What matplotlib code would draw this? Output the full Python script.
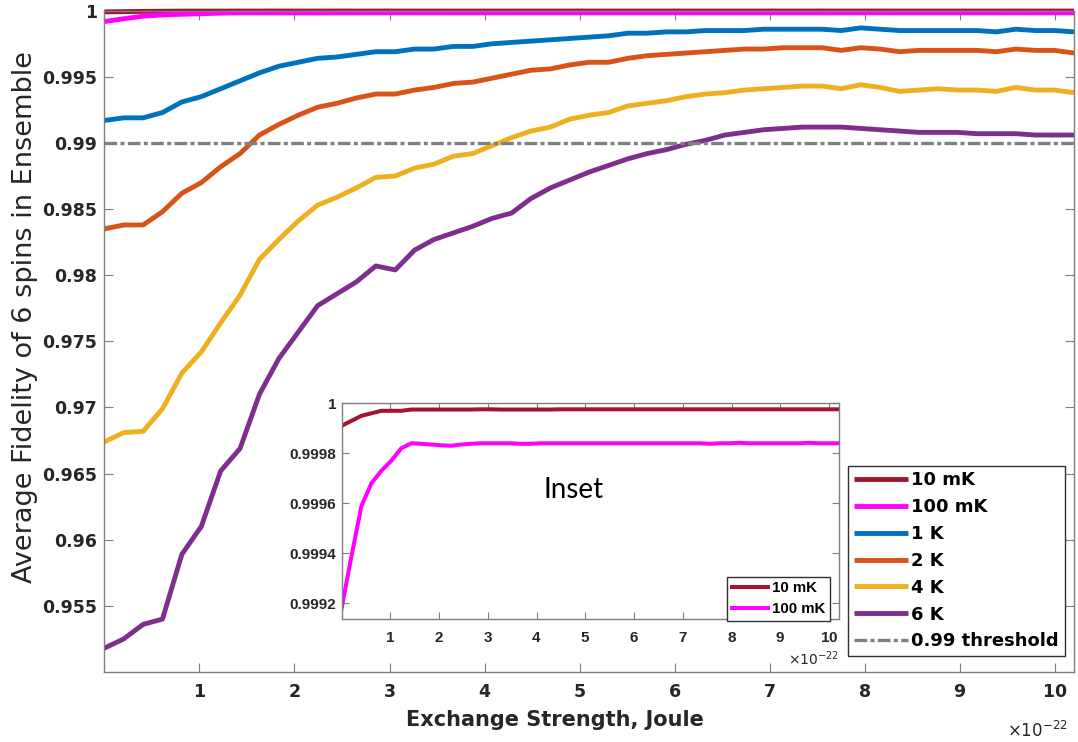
import numpy as np
import matplotlib
matplotlib.use("Agg")
import matplotlib.pyplot as plt
from matplotlib.ticker import ScalarFormatter, FuncFormatter

plt.rcParams['font.family'] = ['DejaVu Sans']

# exchange strength grid, Joule
exchange = np.linspace(0, 10.2e-22, 51)

fid_10mK = [0.99991, 0.99993, 0.99995, 0.99996, 0.99997, 0.99997, 0.99997, 0.999975, 0.999975, 0.999975,
            0.999975, 0.999975, 0.999975, 0.999975, 0.999976, 0.999976, 0.999975, 0.999975, 0.999975, 0.999975,
            0.999975, 0.999975, 0.999976, 0.999976, 0.999976, 0.999976, 0.999976, 0.999976, 0.999976, 0.999976,
            0.999976, 0.999976, 0.999976, 0.999976, 0.999976, 0.999976, 0.999976, 0.999976, 0.999976, 0.999976,
            0.999976, 0.999976, 0.999976, 0.999976, 0.999976, 0.999976, 0.999976, 0.999976, 0.999976, 0.999976,
            0.999976]
fid_100mK = [0.99918, 0.99939, 0.99959, 0.99968, 0.99973, 0.99977, 0.99982, 0.99984, 0.999838, 0.999835,
             0.999832, 0.99983, 0.999835, 0.999838, 0.99984, 0.99984, 0.99984, 0.99984, 0.999838, 0.999838,
             0.99984, 0.99984, 0.99984, 0.99984, 0.99984, 0.99984, 0.99984, 0.99984, 0.99984, 0.99984,
             0.99984, 0.99984, 0.99984, 0.99984, 0.99984, 0.99984, 0.99984, 0.999838, 0.99984, 0.99984,
             0.999842, 0.99984, 0.99984, 0.99984, 0.99984, 0.99984, 0.99984, 0.999842, 0.99984, 0.99984,
             0.99984]
fid_1K = [0.9917, 0.9919, 0.9919, 0.9923, 0.9931, 0.9935, 0.9941, 0.9947, 0.9953, 0.9958,
          0.9961, 0.9964, 0.9965, 0.9967, 0.9969, 0.9969, 0.9971, 0.9971, 0.9973, 0.9973,
          0.9975, 0.9976, 0.9977, 0.9978, 0.9979, 0.9980, 0.9981, 0.9983, 0.9983, 0.9984,
          0.9984, 0.9985, 0.9985, 0.9985, 0.9986, 0.9986, 0.9986, 0.9986, 0.9985, 0.9987,
          0.9986, 0.9985, 0.9985, 0.9985, 0.9985, 0.9985, 0.9984, 0.9986, 0.9985, 0.9985,
          0.9984]
fid_2K = [0.9835, 0.9838, 0.9838, 0.9848, 0.9862, 0.9870, 0.9882, 0.9892, 0.9906, 0.9914,
          0.9921, 0.9927, 0.9930, 0.9934, 0.9937, 0.9937, 0.9940, 0.9942, 0.9945, 0.9946,
          0.9949, 0.9952, 0.9955, 0.9956, 0.9959, 0.9961, 0.9961, 0.9964, 0.9966, 0.9967,
          0.9968, 0.9969, 0.9970, 0.9971, 0.9971, 0.9972, 0.9972, 0.9972, 0.9970, 0.9972,
          0.9971, 0.9969, 0.9970, 0.9970, 0.9970, 0.9970, 0.9969, 0.9971, 0.9970, 0.9970,
          0.9968]
fid_4K = [0.9674, 0.9681, 0.9682, 0.9699, 0.9726, 0.9742, 0.9764, 0.9785, 0.9812, 0.9827,
          0.9841, 0.9853, 0.9859, 0.9866, 0.9874, 0.9875, 0.9881, 0.9884, 0.9890, 0.9892,
          0.9898, 0.9904, 0.9909, 0.9912, 0.9918, 0.9921, 0.9923, 0.9928, 0.9930, 0.9932,
          0.9935, 0.9937, 0.9938, 0.9940, 0.9941, 0.9942, 0.9943, 0.9943, 0.9941, 0.9944,
          0.9942, 0.9939, 0.9940, 0.9941, 0.9940, 0.9940, 0.9939, 0.9942, 0.9940, 0.9940,
          0.9938]
fid_6K = [0.9518, 0.9525, 0.9536, 0.9540, 0.9589, 0.9610, 0.9652, 0.9669, 0.9710, 0.9737,
          0.9757, 0.9777, 0.9786, 0.9795, 0.9807, 0.9804, 0.9819, 0.9827, 0.9832, 0.9837,
          0.9843, 0.9847, 0.9858, 0.9866, 0.9872, 0.9878, 0.9883, 0.9888, 0.9892, 0.9895,
          0.9899, 0.9902, 0.9906, 0.9908, 0.9910, 0.9911, 0.9912, 0.9912, 0.9912, 0.9911,
          0.9910, 0.9909, 0.9908, 0.9908, 0.9908, 0.9907, 0.9907, 0.9907, 0.9906, 0.9906,
          0.9906]
threshold = 0.99

labels = ["10 mK", "100 mK", "1 K", "2 K", "4 K", "6 K"]
colors = ["#A2142F", "#FF00FF", "#0072BD", "#D95319", "#EDB120", "#7E2F8E"]
series = [fid_10mK, fid_100mK, fid_1K, fid_2K, fid_4K, fid_6K]

W, H = 1078, 742
spine_col = "#7f7f7f"
text_col = "#262626"


def e22_formatter():
    # tick labels in units of 1e-22 with the exponent shown once at the axis end
    f = ScalarFormatter(useMathText=True)
    f.set_powerlimits((-22, -22))
    return f


fig = plt.figure(figsize=(W / 100, H / 100), dpi=100)
ax = fig.add_axes([104.3 / W, 1 - 672 / H, (1074 - 104.3) / W, (672 - 10.7) / H])

handles = []
for k, (y, c, lab) in enumerate(zip(series, colors, labels)):
    # the two near-unity curves sit on the top edge, let them spill over it
    h, = ax.plot(exchange, y, color=c, lw=3.5, label=lab, solid_joinstyle="round",
                 solid_capstyle="butt", clip_on=(k >= 2))
    handles.append(h)
th, = ax.plot([exchange[0], exchange[-1]], [threshold, threshold], color="#808080", lw=2.4,
              dashes=(3.8, 1.0, 1.2, 1.0), label="0.99 threshold")
handles.append(th)

ax.set_xlim(0, 10.2e-22)
ax.set_ylim(0.95, 1.0)
ax.set_xticks(np.arange(1, 11) * 1e-22)
ax.set_yticks(np.arange(0.955, 1.0001, 0.005))
ax.xaxis.set_major_formatter(e22_formatter())
ax.yaxis.set_major_formatter(FuncFormatter(lambda v, p: "%g" % round(v, 4)))
ax.tick_params(direction="in", length=6.5, width=0.8, color=spine_col, top=True, right=True,
               labelsize=12.5, labelcolor=text_col)
ax.tick_params(axis="x", pad=8)
ax.tick_params(axis="y", pad=5)
for lbl in ax.get_xticklabels() + ax.get_yticklabels():
    lbl.set_fontweight("bold")
ax.xaxis.get_offset_text().set_visible(False)
fig.text(1068 / W, 1 - 737 / H, r"$\times10^{-22}$", ha="right", va="baseline",
         fontsize=12, color=text_col)
for s in ax.spines.values():
    s.set_color(spine_col)
    s.set_linewidth(1.0)

ax.set_xlabel("Exchange Strength, Joule", fontsize=15, fontweight="bold", color=text_col)
ax.xaxis.set_label_coords(0.4648, -0.058)
ax.set_ylabel("Average Fidelity of 6 spins in Ensemble", fontsize=19.5, color=text_col)
ax.yaxis.set_label_coords(-0.0684, 0.537)

leg = ax.legend(handles=handles, loc="upper left", bbox_to_anchor=(848.3 / W, 1 - 466 / H),
                bbox_transform=fig.transFigure, borderaxespad=0,
                prop={"weight": "bold", "size": 13}, handlelength=3.0, handletextpad=0.2,
                borderpad=0.3, labelspacing=0.49, fancybox=False, framealpha=1,
                edgecolor="#303030")
leg.get_frame().set_linewidth(1.0)

# inset zoom on the two lowest temperatures
ins = fig.add_axes([341.6 / W, 1 - 619 / H, (838.9 - 341.6) / W, (619 - 403.3) / H])
ins_handles = []
for y, c, lab in zip(series[:2], colors[:2], labels[:2]):
    h, = ins.plot(exchange, y, color=c, lw=2.9, label=lab)
    ins_handles.append(h)
ins.set_xlim(0, 10.2e-22)
ins.set_ylim(0.999137, 1.0)
ins.set_xticks(np.arange(1, 11) * 1e-22)
ins.set_yticks([0.9992, 0.9994, 0.9996, 0.9998, 1.0])
ins.xaxis.set_major_formatter(e22_formatter())
ins.yaxis.set_major_formatter(FuncFormatter(lambda v, p: "%g" % round(v, 5)))
ins.tick_params(direction="in", length=5, width=0.8, color=spine_col, top=True, right=True,
                labelsize=11, labelcolor=text_col)
ins.tick_params(axis="x", pad=9)
ins.tick_params(axis="y", pad=4)
for lbl in ins.get_xticklabels() + ins.get_yticklabels():
    lbl.set_fontfamily("Liberation Sans")
    lbl.set_fontweight("bold")
ins.xaxis.get_offset_text().set_fontsize(10)
ins.xaxis.get_offset_text().set_color(text_col)
for s in ins.spines.values():
    s.set_color(spine_col)
    s.set_linewidth(1.0)

ins.text(0.467, 0.598, "Inset", transform=ins.transAxes, fontsize=20, family="Lato",
         ha="center", va="center", color="black")

ileg = ins.legend(handles=ins_handles, loc="upper left", bbox_to_anchor=(727 / W, 1 - 577 / H),
                  bbox_transform=fig.transFigure, borderaxespad=0,
                  prop={"family": "Liberation Sans", "weight": "bold", "size": 10.8},
                  handlelength=2.44, handletextpad=0.25, borderpad=0.3, labelspacing=0.45,
                  fancybox=False, framealpha=1, edgecolor="#303030")
ileg.get_frame().set_linewidth(1.0)

fig.savefig("out.png", dpi=100)
